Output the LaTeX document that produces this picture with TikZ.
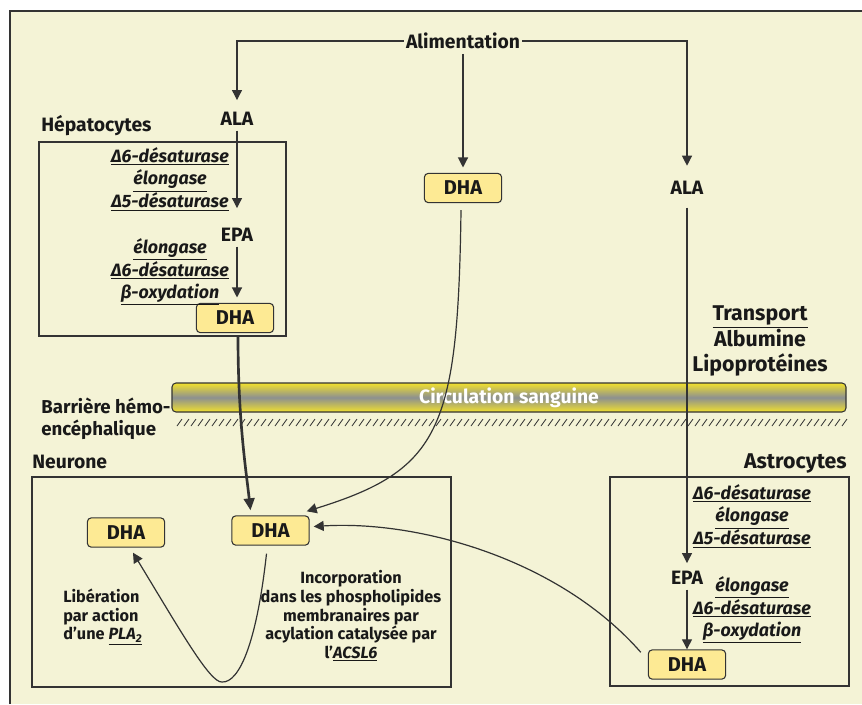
\documentclass[tikz,border=0pt]{standalone}
\usepackage{fontspec}
\setmainfont{Fira Sans}
\usetikzlibrary{arrows.meta,calc}
\definecolor{fond}{HTML}{F4F3D6}
\definecolor{jaune}{HTML}{FDEA94}
\definecolor{trait}{HTML}{333333}
\definecolor{sang}{HTML}{F2E12C}
\definecolor{gris}{HTML}{8C9090}
\tikzset{
  fl/.style={-{Triangle[length=7.5pt,width=7.5pt]},trait,line width=0.9pt},
  cadre/.style={draw=trait,line width=0.9pt},
  dha/.style={draw=trait,fill=jaune,rounded corners=3pt,line width=0.8pt,minimum width=58pt,minimum height=22pt,font=\bfseries\fontsize{15}{17}\selectfont},
  mol/.style={font=\bfseries\fontsize{14.5}{17}\selectfont,inner sep=1.5pt},
  titre/.style={font=\bfseries\fontsize{14.5}{17}\selectfont,inner sep=0pt,align=left},
  enz/.style={font=\bfseries\itshape\fontsize{13.4}{17}\selectfont,align=center,inner sep=0pt},
  petit/.style={font=\bfseries\fontsize{12.2}{14}\selectfont,inner sep=0pt}
}
\begin{document}
\begin{tikzpicture}[x=0.75pt,y=-0.75pt,text=black!90]
    \useasboundingbox (0,0) rectangle (862,704);
    \fill[fond] (10,11) rectangle (862,704);
    \draw[trait,line width=1.2pt] (10,704) -- (10,11) -- (862,11);

    \draw[cadre] (39,142) rectangle (286,336);
    \draw[cadre] (32,477) rectangle (451,687);
    \draw[cadre] (610,477) rectangle (849,686);

    \shade[top color=sang,bottom color=sang,middle color=gris,rounded corners=3pt] (172,383) rectangle (846,412);
    \draw[trait,line width=0.8pt,rounded corners=3pt] (172,383) rectangle (846,412);
    \foreach \x in {177,184,...,842}
        \draw[trait,line width=0.6pt] (\x,426) -- ++(5,-7);
    \node[font=\bfseries\fontsize{14.5}{17}\selectfont,text=white] (circ) at (509,398) {Circulation sanguine};

    \node[mol] (al) at (463,41) {Alimentation};
    \node[mol] (hala) at (237,119) {ALA};
    \node[mol] (hepa) at (237,235) {EPA};
    \node[dha] (hdha) at (235,318) {DHA};
    \node[dha] (mdha) at (463,188) {DHA};
    \node[mol] (aala) at (687,188) {ALA};
    \node[mol] (aepa) at (687,578) {EPA};
    \node[dha] (adha) at (687,664.5) {DHA};
    \node[dha] (ndha) at (270.5,530.5) {DHA};
    \node[dha] (ldha) at (126,532.5) {DHA};

    \node[titre,anchor=west] (hep) at (41,126) {Hépatocytes};
    \node[titre,anchor=west] (neu) at (32,462) {Neurone};
    \node[titre,anchor=east,font=\bfseries\fontsize{16}{18}\selectfont] (ast) at (847,463) {Astrocytes};
    \node[titre,anchor=west,font=\bfseries\fontsize{14}{16.5}\selectfont] (bhe) at (41,419) {Barrière hémo-\\encéphalique};
    \node[titre,align=center,font=\bfseries\fontsize{16}{19}\selectfont] (tr) at (760,341) {\underline{Transport}\\Albumine\\Lipoprotéines};

    \node[enz] (he1) at (170,179) {\underline{Δ6-désaturase}\\\underline{élongase}\\\underline{Δ5-désaturase}};
    \node[enz] (he2) at (170,272) {\underline{élongase}\\\underline{Δ6-désaturase}\\\underline{β-oxydation}};
    \node[enz] (ae1) at (752,516) {\underline{Δ6-désaturase}\\\underline{élongase}\\\underline{Δ5-désaturase}};
    \node[enz] (ae2) at (752,610) {\underline{élongase}\\\underline{Δ6-désaturase}\\\underline{β-oxydation}};

    \node[petit,anchor=west,align=left] (lib) at (63,617) {Libération\\par action\\d’une \underline{\textit{PLA\textsubscript{2}}}};
    \node[petit,align=center] (inc) at (351,616) {Incorporation\\dans les phospholipides\\membranaires par\\acylation catalysée par\\l’\underline{\textit{ACSL6}}};

    \draw[fl,shorten >=7.5pt] (al.west) -| (hala.north);
    \draw[fl,shorten >=10pt] (al.east) -| (aala.north);
    \draw[fl,shorten <=2pt,shorten >=4pt] (al.south) -- (mdha.north);
    \draw[fl,shorten <=2pt,shorten >=13.5pt] (hala.south) -- (hepa.north);
    \draw[fl,shorten <=2pt,shorten >=4pt] (hepa.south) -- (hepa.south |- hdha.north);
    \draw[fl,shorten <=8pt,shorten >=4.5pt] (aala.south) -- (aepa.north);
    \draw[fl,shorten <=2pt] (aepa.south) -- (adha.north);

    \draw[fl,line width=2pt,-{Triangle[length=9pt,width=8pt]}] ($(hdha.south)+(3,3)$) .. controls (238,420) and (246,470) .. ($(ndha.north)+(-20,-5)$);
    \draw[fl] ($(mdha.south)+(-2,7)$) .. controls (458,430) and (440,470) .. ($(ndha.north east)+(-3,-4)$);
    \draw[fl] ($(adha.north west)+(-7,3)$) .. controls (560,560) and (420,520) .. ($(ndha.east)+(4,-4)$);
    \draw[fl] ($(ndha.south)+(-4,8)$) .. controls (257,640) and (240,683) .. (222,682) .. controls (210,683) and (180,630) .. ($(ldha.south)+(7,5)$);
\end{tikzpicture}
\end{document}
